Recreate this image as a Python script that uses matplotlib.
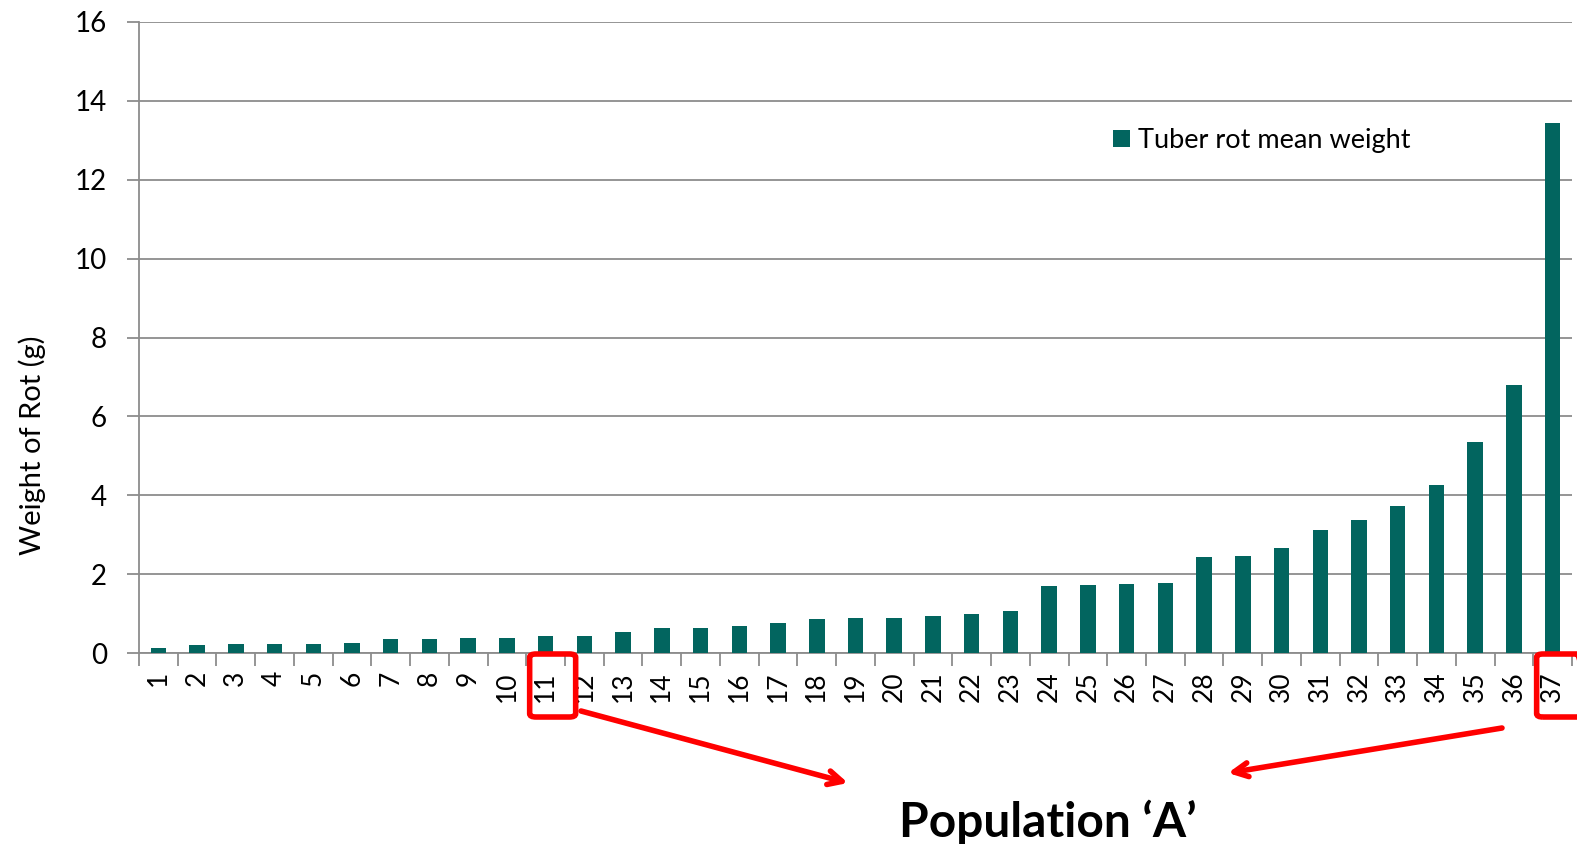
import matplotlib
matplotlib.use("Agg")
import matplotlib.pyplot as plt
from matplotlib.patches import FancyBboxPatch
import numpy as np

plt.rcParams['font.family'] = ['Lato', 'DejaVu Sans']

categories = [str(i) for i in range(1, 38)]
values = [0.12, 0.21, 0.22, 0.23, 0.23, 0.25, 0.35, 0.35, 0.38, 0.39,
          0.42, 0.44, 0.52, 0.625, 0.63, 0.675, 0.77, 0.87, 0.89, 0.90,
          0.94, 0.98, 1.07, 1.70, 1.725, 1.75, 1.78, 2.43, 2.45, 2.67,
          3.13, 3.37, 3.72, 4.25, 5.35, 6.80, 13.45]
yticks = [0, 2, 4, 6, 8, 10, 12, 14, 16]
series_name = "Tuber rot mean weight"
ylabel = "Weight of Rot (g)"
annotation = "Population \u2018A\u2019"
highlight = ["11", "37"]

W, H = 1577, 844
fig = plt.figure(figsize=(W / 100, H / 100), dpi=100)
ax = fig.add_axes([139 / W, 191 / H, (1572 - 139) / W, (653 - 22) / H])

teal = "#02655f"
grey = "#8c8c8c"
x = np.arange(len(categories))
ax.bar(x, values, width=0.4, color=teal, label=series_name, zorder=3)

ax.set_xlim(-0.5, len(categories) - 0.5)
ax.set_ylim(0, 16)
ax.set_yticks(yticks)
ax.set_yticklabels([str(v) for v in yticks], fontsize=20)
ax.yaxis.grid(True, color=grey, linewidth=1.3, zorder=0)
ax.set_axisbelow(True)

ax.set_xticks(np.arange(-0.5, len(categories), 1.0))
ax.set_xticklabels([])
ax.set_xticks(x, minor=True)
ax.set_xticklabels(categories, minor=True, rotation=90, fontsize=19)
ax.tick_params(axis='x', which='major', length=9, width=1.3, color=grey, direction='out')
ax.tick_params(axis='x', which='minor', length=0, pad=13)
ax.tick_params(axis='y', length=9, width=1.3, color=grey, direction='out', pad=14)

for s in ['top', 'right']:
    ax.spines[s].set_visible(False)
for s in ['left', 'bottom']:
    ax.spines[s].set_color(grey)
    ax.spines[s].set_linewidth(1.3)

ax.set_ylabel(ylabel, fontsize=21)
ax.yaxis.set_label_coords(-0.065, 0.330)

leg = ax.legend(loc='upper left', bbox_to_anchor=(0.663, 0.87), frameon=False,
                fontsize=19.5, handlelength=0.6, handleheight=0.6, handletextpad=0.3)

def px(xp, yp):
    return (xp / W, 1 - yp / H)

for lab in highlight:
    i = categories.index(lab)
    xd = ax.transData.transform((i, 0))[0]
    x0 = xd - 16
    box = FancyBboxPatch((x0 / W, 1 - 717 / H), 46 / W, 63 / H,
                         boxstyle="round,pad=0,rounding_size=0.004",
                         transform=fig.transFigure, fill=False,
                         edgecolor="#ff0000", linewidth=4, clip_on=False)
    fig.patches.append(box)

fig.text(1048 / W, 1 - 822 / H, annotation, fontsize=34.5, fontweight='bold',
         ha='center', va='center')

for start, end in [((581, 711), (848, 783)), ((1502, 728), (1228, 773))]:
    ax.annotate('', xy=px(*end), xycoords='figure fraction',
                xytext=px(*start), textcoords='figure fraction',
                arrowprops=dict(arrowstyle='->,head_length=1.0,head_width=0.5',
                                color='#ff0000', lw=4, shrinkA=0, shrinkB=0))

fig.savefig("out.png", dpi=100)
